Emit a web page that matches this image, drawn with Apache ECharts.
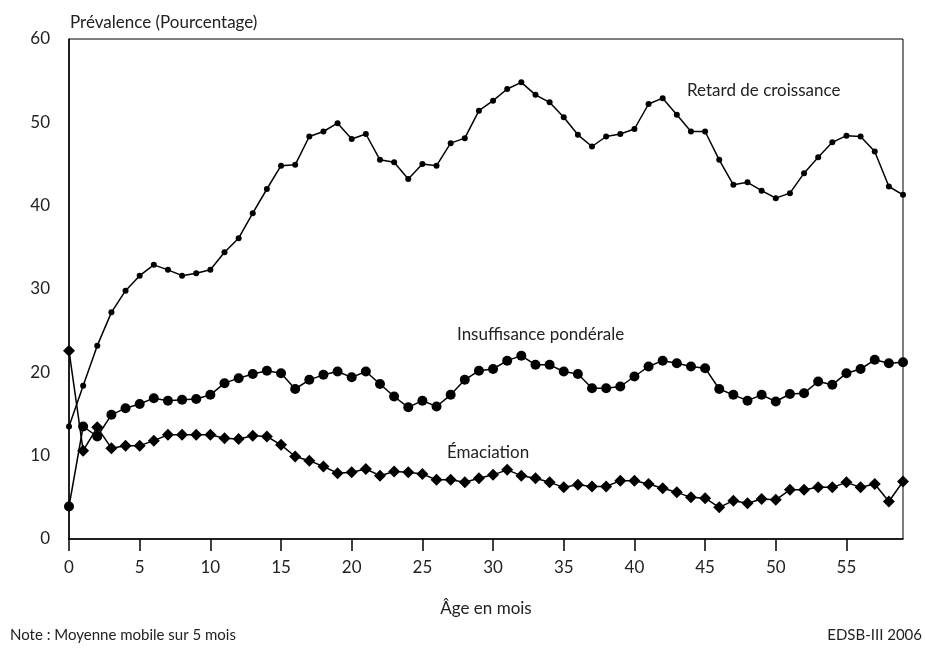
<!DOCTYPE html>
<html>
<head>
<meta charset="utf-8">
<script src="https://cdn.jsdelivr.net/npm/echarts@6/dist/echarts.min.js"></script>
<style>
  html, body { margin: 0; padding: 0; background: #fff; }
  #chart { width: 925px; height: 649px; }
</style>
</head>
<body>
<div id="chart"></div>
<script>
// Age in months, 0..59
const ages = Array.from({ length: 60 }, (_, i) => String(i));

// Prevalence values (percent)
const retardCroissance = [
  13.5, 18.4, 23.2, 27.2, 29.8, 31.6, 32.9, 32.3, 31.6, 31.9,
  32.3, 34.4, 36.1, 39.1, 42.0, 44.8, 44.9, 48.3, 48.9, 49.9,
  48.0, 48.6, 45.5, 45.2, 43.2, 45.0, 44.8, 47.5, 48.1, 51.4,
  52.6, 54.0, 54.8, 53.3, 52.4, 50.6, 48.5, 47.1, 48.3, 48.6,
  49.2, 52.2, 52.9, 50.9, 48.9, 48.9, 45.5, 42.5, 42.8, 41.8,
  40.9, 41.5, 43.9, 45.8, 47.6, 48.4, 48.3, 46.5, 42.3, 41.3
];
const insuffisancePonderale = [
  3.9, 13.5, 12.3, 14.9, 15.7, 16.2, 16.9, 16.6, 16.7, 16.8,
  17.3, 18.7, 19.3, 19.8, 20.2, 19.9, 18.0, 19.1, 19.7, 20.1,
  19.4, 20.1, 18.6, 17.1, 15.8, 16.6, 15.9, 17.3, 19.1, 20.2,
  20.4, 21.4, 22.0, 20.9, 20.9, 20.1, 19.8, 18.1, 18.1, 18.3,
  19.5, 20.7, 21.4, 21.1, 20.7, 20.5, 18.0, 17.3, 16.6, 17.3,
  16.5, 17.4, 17.5, 18.9, 18.5, 19.9, 20.4, 21.5, 21.1, 21.2
];
const emaciation = [
  22.6, 10.6, 13.4, 10.9, 11.2, 11.2, 11.8, 12.5, 12.5, 12.5,
  12.5, 12.1, 12.0, 12.4, 12.3, 11.3, 9.9, 9.4, 8.7, 7.9,
  8.0, 8.4, 7.6, 8.1, 8.0, 7.8, 7.1, 7.1, 6.8, 7.3,
  7.7, 8.3, 7.6, 7.3, 6.8, 6.2, 6.5, 6.3, 6.3, 7.0,
  7.0, 6.6, 6.1, 5.6, 5.0, 4.9, 3.8, 4.6, 4.3, 4.8,
  4.7, 5.9, 5.9, 6.2, 6.2, 6.8, 6.2, 6.6, 4.5, 6.9
];

const FONT = "Lato, 'Open Sans', sans-serif";

const lineSeries = (name, data, symbol, size) => ({
  name: name,
  type: "line",
  data: data,
  symbol: symbol,
  symbolSize: size,
  showSymbol: true,
  showAllSymbol: true,
  animation: false,
  lineStyle: { color: "#000", width: 1.5 },
  itemStyle: { color: "#000" },
});

const option = {
  backgroundColor: "#fff",
  textStyle: { fontFamily: FONT, color: "#222" },
  grid: {
    left: 69, right: 22, top: 39, bottom: 110,
    show: true, borderColor: "#000", borderWidth: 1,
  },
  xAxis: {
    type: "category",
    data: ages,
    boundaryGap: false,
    name: "Âge en mois",
    nameLocation: "middle",
    nameGap: 61,
    nameTextStyle: { fontSize: 17, color: "#222", fontFamily: FONT },
    axisLine: { lineStyle: { color: "#000", width: 1.5 } },
    axisTick: {
      show: true,
      length: 12,
      interval: (i) => i % 5 === 0,
      lineStyle: { color: "#000", width: 1.5 },
    },
    axisLabel: {
      interval: (i) => i % 5 === 0,
      margin: 20,
      fontSize: 17,
      color: "#222",
      fontFamily: FONT,
    },
    splitLine: { show: false },
  },
  yAxis: {
    type: "value",
    min: 0,
    max: 60,
    interval: 10,
    axisLine: { show: true, lineStyle: { color: "#000", width: 1.5 } },
    axisTick: { show: false },
    axisLabel: { margin: 19, fontSize: 17, color: "#222", fontFamily: FONT },
    splitLine: { show: false },
  },
  series: [
    lineSeries("Retard de croissance", retardCroissance, "circle", 6),
    lineSeries("Insuffisance pondérale", insuffisancePonderale, "circle", 10),
    lineSeries("Émaciation", emaciation, "diamond", 12),
  ],
  graphic: [
    { type: "text", left: 70, top: 14, style: { text: "Prévalence (Pourcentage)", font: "17px " + FONT, fill: "#222" } },
    { type: "text", left: 687, top: 82, style: { text: "Retard de croissance", font: "17px " + FONT, fill: "#222" } },
    { type: "text", left: 457, top: 326, style: { text: "Insuffisance pondérale", font: "17px " + FONT, fill: "#222" } },
    { type: "text", left: 447, top: 444, style: { text: "Émaciation", font: "17px " + FONT, fill: "#222" } },
    { type: "text", left: 10, top: 628, style: { text: "Note : Moyenne mobile sur 5 mois", font: "15px " + FONT, fill: "#222" } },
    { type: "text", right: 3, top: 628, style: { text: "EDSB-III 2006", font: "15px " + FONT, fill: "#222" } },
  ],
};

const chart = echarts.init(document.getElementById("chart"));
chart.setOption(option);
</script>
</body>
</html>
